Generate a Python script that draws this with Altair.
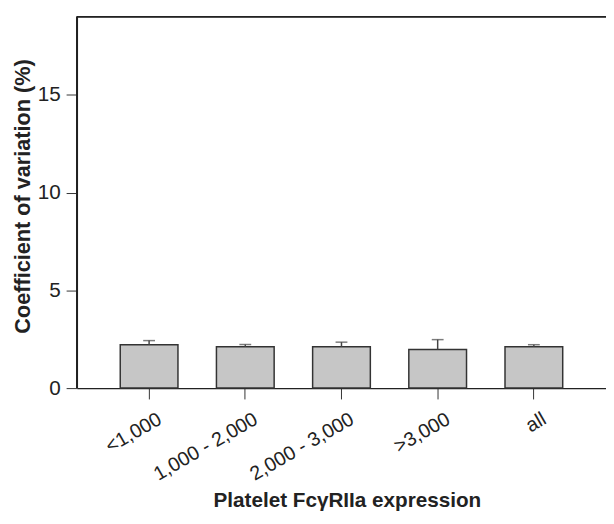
import altair as alt
import pandas as pd

categories = ["<1,000", "1,000 - 2,000", "2,000 - 3,000", ">3,000", "all"]
cv_values = [2.22, 2.11, 2.11, 1.98, 2.11]
cv_upper = [2.43, 2.23, 2.35, 2.48, 2.22]

df = pd.DataFrame({"cat": categories, "cv": cv_values, "up": cv_upper})

W, H = 537, 377
font = "Liberation Sans"

x = alt.X("cat:N", sort=categories,
          scale=alt.Scale(paddingInner=0.4, paddingOuter=0.45),
          axis=alt.Axis(title="Platelet FcγRIIa expression", labelAngle=-30,
                        labelAlign="right", labelBaseline="top",
                        labelFontSize=20, labelColor="#222", labelPadding=10,
                        labelOffset=6,
                        tickSize=11, tickColor="#333", domainColor="#222",
                        domainWidth=1.2,
                        titleFontSize=21, titleFontWeight="bold", titleColor="#222",
                        titleX=274, titleY=120, titleBaseline="alphabetic"))
y_scale = alt.Scale(domain=[0, 19], nice=False, zero=True)

bars = alt.Chart(df).mark_bar(fill="#c6c6c6", stroke="#333333", strokeWidth=1.5).encode(
    x=x,
    y=alt.Y("cv:Q", scale=y_scale,
            axis=alt.Axis(title="Coefficient of variation (%)", values=[0, 5, 10, 15],
                          domain=True, domainColor="#222", domainWidth=1.2,
                          labelFontSize=21, labelColor="#222", labelPadding=6,
                          tickSize=11, tickColor="#333",
                          grid=False, titleFontSize=22, titleFontWeight="bold",
                          titleColor="#222", titleX=-55, titleY=182,
                          titleBaseline="middle", titleAlign="center", titleAngle=-90)),
)

err = alt.Chart(df).mark_rule(color="#444", strokeWidth=1.5).encode(
    x=alt.X("cat:N", sort=categories),
    y=alt.Y("cv:Q", scale=y_scale),
    y2="up:Q",
)
caps = alt.Chart(df).mark_tick(color="#444", thickness=1.5, size=12, orient="horizontal").encode(
    x=alt.X("cat:N", sort=categories),
    y=alt.Y("up:Q", scale=y_scale),
)
top = alt.Chart(df).mark_rule(color="#222", strokeWidth=1.2).encode(
    x=alt.value(0), x2=alt.value(W), y=alt.value(0)
)
left = alt.Chart(df).mark_rule(color="#222", strokeWidth=1.2).encode(
    x=alt.value(0), y=alt.value(0), y2=alt.value(H)
)

chart = alt.layer(bars, err, caps, top, left).properties(
    width=W, height=H,
    autosize=alt.AutoSizeParams(type="none"),
    padding={"left": 70, "top": 5, "right": 0, "bottom": 126},
).configure_view(stroke=None).configure(font=font)

chart.save("out.html", embed_options={"renderer": "svg", "actions": False})
